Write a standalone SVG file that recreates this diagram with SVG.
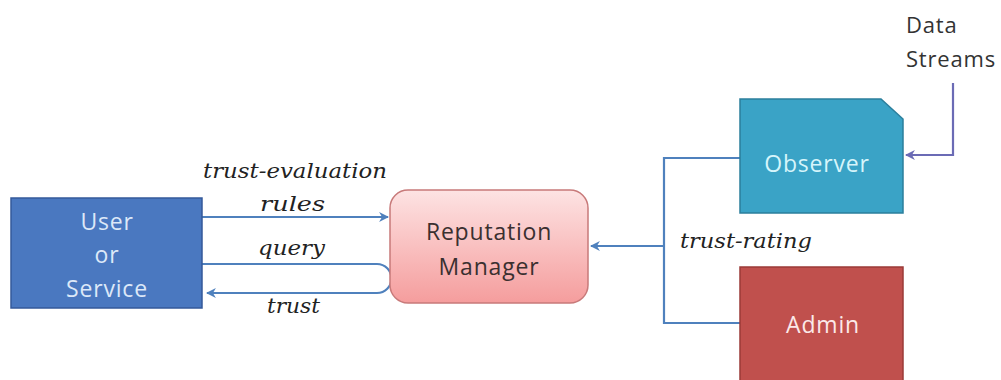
<svg xmlns="http://www.w3.org/2000/svg" width="1001" height="380" viewBox="0 0 1001 380">
  <style>
    .lbl { font-family: "DejaVu Serif", "Liberation Serif", serif; font-style: italic; font-size: 21px; fill: #222; }
    .node { font-family: "Open Sans", "Liberation Sans", sans-serif; font-size: 23px; letter-spacing: 0.8px; text-anchor: middle; }
    .conn { fill: none; stroke: #4f81bd; stroke-width: 2.2; }
  </style>
  <defs>
    <marker id="arrow" viewBox="0 0 10 10" refX="9" refY="5" markerWidth="4.5" markerHeight="4.5" orient="auto" markerUnits="strokeWidth">
      <path d="M0,0 L10,5 L0,10 L3,5 z" fill="#4f81bd"/>
    </marker>
    <marker id="arrowP" viewBox="0 0 10 10" refX="9" refY="5" markerWidth="4.5" markerHeight="4.5" orient="auto" markerUnits="strokeWidth">
      <path d="M0,0 L10,5 L0,10 L3,5 z" fill="#6b6bb5"/>
    </marker>
    <linearGradient id="repGrad" x1="0" y1="0" x2="0" y2="1">
      <stop offset="0" stop-color="#fde3e3"/>
      <stop offset="1" stop-color="#f59d9d"/>
    </linearGradient>
  </defs>
  <rect width="1001" height="380" fill="#ffffff"/>

  <g id="connectors">
    <!-- trust-evaluation rules -->
    <line class="conn" x1="202" y1="217" x2="388" y2="217" marker-end="url(#arrow)"/>
    <!-- query / trust loop -->
    <path class="conn" d="M202,264 H377 A14.5,14.5 0 0 1 377,293 H207" marker-end="url(#arrow)"/>
    <!-- trust-rating bus -->
    <path class="conn" d="M740,158 H664 V323 H740"/>
    <line class="conn" x1="664" y1="246" x2="591" y2="246" marker-end="url(#arrow)"/>
    <!-- data streams -->
    <path class="conn" d="M953,83 V155 H906" style="stroke:#6b6bb5" marker-end="url(#arrowP)"/>
  </g>

  <g id="user">
    <rect x="11" y="198" width="191" height="110" fill="#4a78c0" stroke="#35599a" stroke-width="1.5"/>
    <text class="node" x="107" y="230" fill="#dce8f8">User</text>
    <text class="node" x="107" y="263" fill="#dce8f8">or</text>
    <text class="node" x="107" y="297" fill="#dce8f8">Service</text>
  </g>

  <g id="reputation-manager">
    <rect x="390" y="190" width="198" height="113" rx="18" fill="url(#repGrad)" stroke="#c87a7a" stroke-width="1.5"/>
    <text class="node" x="489" y="240" fill="#3a3030">Reputation</text>
    <text class="node" x="489" y="275" fill="#3a3030">Manager</text>
  </g>

  <g id="observer">
    <path d="M740,99 H881 L903,119 V213 H740 Z" fill="#3aa3c6" stroke="#2b7f9c" stroke-width="1.5"/>
    <text class="node" x="817" y="172" fill="#d6f5fb">Observer</text>
  </g>

  <g id="admin">
    <rect x="740" y="267" width="163" height="115" fill="#c0504d" stroke="#9b3a37" stroke-width="1.5"/>
    <text class="node" x="823" y="333" fill="#fbe9e9">Admin</text>
  </g>

  <g id="data-streams">
    <text x="906" y="33" style="font-family:'Open Sans','Liberation Sans',sans-serif;font-size:22px;letter-spacing:0.8px;fill:#333">Data</text>
    <text x="906" y="67" style="font-family:'Open Sans','Liberation Sans',sans-serif;font-size:22px;letter-spacing:0.8px;fill:#333">Streams</text>
  </g>

  <g id="labels">
    <text class="lbl" x="203" y="178" textLength="184" lengthAdjust="spacingAndGlyphs">trust-evaluation</text>
    <text class="lbl" x="260" y="211" textLength="65" lengthAdjust="spacingAndGlyphs">rules</text>
    <text class="lbl" x="258" y="255" textLength="67" lengthAdjust="spacingAndGlyphs">query</text>
    <text class="lbl" x="267" y="313" textLength="53" lengthAdjust="spacingAndGlyphs">trust</text>
    <text class="lbl" x="680" y="248" textLength="132" lengthAdjust="spacingAndGlyphs">trust-rating</text>
  </g>
</svg>
